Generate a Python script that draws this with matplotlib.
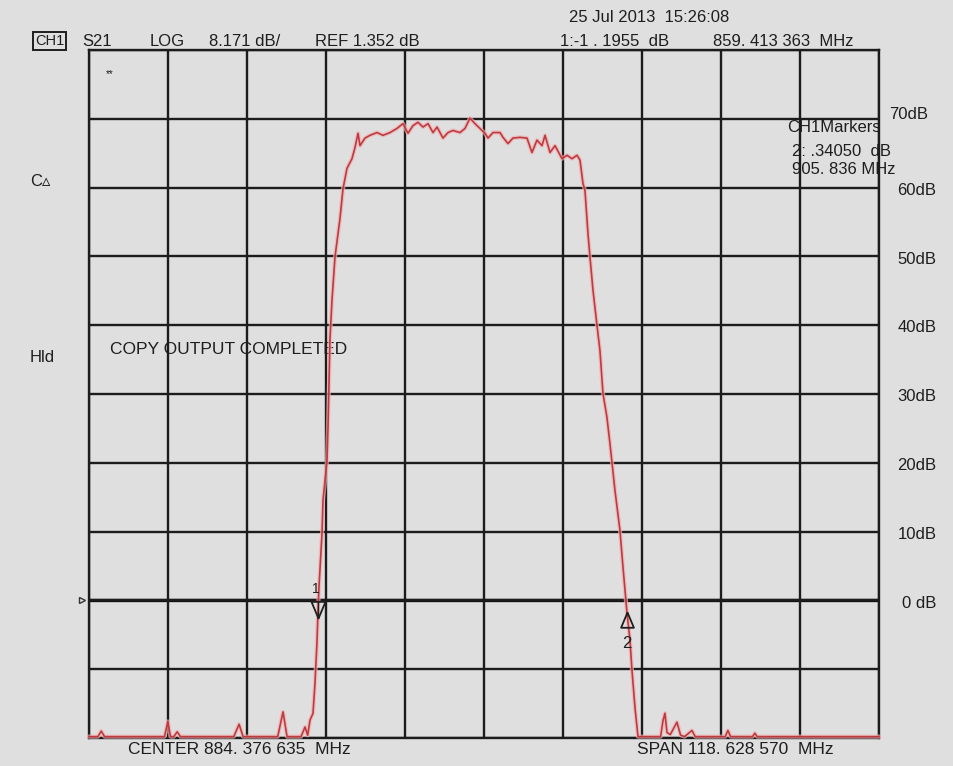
import numpy as np
import matplotlib.pyplot as plt

plt.rcParams['font.family'] = ['Liberation Sans', 'DejaVu Sans']

# sweep settings
center_mhz = 884.376635
span_mhz = 118.628570
start_mhz = center_mhz - span_mhz / 2
stop_mhz = center_mhz + span_mhz / 2

# S21 trace (MHz, dB on the display scale)
freq_mhz = [825.06, 826.40, 826.90, 827.40, 836.40, 836.90, 837.30, 837.80, 838.30, 838.80,
            846.80, 847.60, 848.20, 853.40, 854.20, 854.80, 856.90, 857.50, 857.90, 858.25,
            858.70, 859.00, 859.30, 859.45, 859.60, 860.05, 860.20, 860.80, 860.95, 861.10,
            861.25, 861.55, 862.00, 862.75, 863.20, 863.80, 864.55, 865.00, 865.46, 865.76,
            866.51, 867.26, 868.31, 869.21, 870.26, 871.31, 872.21, 872.96, 873.71, 874.46,
            875.22, 875.97, 876.72, 877.32, 878.22, 878.97, 879.72, 880.77, 881.52, 882.27,
            883.02, 884.08, 884.53, 884.98, 885.73, 886.78, 887.23, 887.98, 888.73, 889.78,
            890.83, 891.58, 892.33, 893.09, 893.54, 894.29, 895.04, 896.09, 896.84, 897.59,
            898.34, 898.79, 899.24, 899.54, 899.99, 900.29, 900.74, 901.34, 901.79, 902.24,
            902.84, 903.29, 903.59, 904.04, 904.79, 905.25, 905.85, 906.30, 906.60, 907.05,
            907.50, 910.90, 911.25, 911.55, 911.85, 912.35, 913.35, 913.90, 914.50, 915.60,
            916.10, 920.60, 921.00, 921.40, 924.70, 925.05, 925.40, 943.69]
s21_db = [-19.8, -19.8, -19.0, -19.8, -19.8, -17.6, -19.8, -19.8, -19.1, -19.8,
          -19.8, -18.0, -19.8, -19.8, -16.2, -19.8, -19.8, -18.4, -19.6, -17.4,
          -16.4, -12.0, -6.0, -1.5, 2.0, 9.7, 14.5, 20.3, 25.1, 31.5,
          38.0, 43.6, 49.9, 55.5, 59.8, 62.8, 64.2, 65.8, 67.9, 66.1,
          67.2, 67.6, 68.0, 67.6, 68.0, 68.6, 69.3, 67.9, 69.0, 69.5,
          68.8, 69.3, 68.0, 68.8, 67.2, 68.0, 68.3, 68.0, 68.6, 70.1,
          69.3, 68.3, 67.9, 67.2, 68.0, 68.0, 67.3, 66.4, 67.2, 67.3,
          67.2, 65.1, 66.9, 66.1, 67.6, 65.1, 66.1, 64.2, 64.7, 64.2,
          64.7, 64.0, 60.6, 59.6, 53.3, 49.9, 45.1, 40.0, 36.3, 30.1,
          26.6, 22.8, 20.1, 16.0, 10.2, 4.8, -1.8, -5.8, -10.2, -15.6,
          -19.8, -19.8, -17.5, -16.4, -19.2, -19.5, -17.7, -19.6, -19.8, -18.9,
          -19.8, -19.8, -18.9, -19.8, -19.8, -19.3, -19.8, -19.8]

marker_mhz = [859.413363, 905.836]
scale_db = [0, 10, 20, 30, 40, 50, 60, 70]
scale_labels = ['0 dB', '10dB', '20dB', '30dB', '40dB', '50dB', '60dB', '70dB']

bg = '#dfdfdf'
ink = '#1e1e1e'
W, H = 954, 766
fig = plt.figure(figsize=(W / 100, H / 100), dpi=100, facecolor=bg)
ax = fig.add_axes((89 / W, 1 - 738 / H, 790 / W, 688 / H))
ax.set_facecolor(bg)

ax.set_xlim(start_mhz, stop_mhz)
ax.set_ylim(-20, 80)
ax.set_xticks(np.linspace(start_mhz, stop_mhz, 11))
ax.set_yticks(np.arange(-20, 81, 10))
ax.tick_params(length=0, labelleft=False, labelbottom=False)
ax.grid(True, color='#1c1c1c', linewidth=1.7, zorder=2)
ax.set_axisbelow(False)
for s in ax.spines.values():
    s.set_color('#1c1c1c')
    s.set_linewidth(1.7)
ax.axhline(0, color='#111111', linewidth=2.4, zorder=2.5)

# trace with a soft pink halo
ax.plot(freq_mhz, s21_db, color='#f0b0b0', linewidth=3.0, alpha=0.7, zorder=3, clip_on=False)
ax.plot(freq_mhz, s21_db, color='#bf3a40', linewidth=1.2, zorder=3.2, clip_on=False)

# markers sit on the trace
mk_db = np.interp(marker_mhz, freq_mhz, s21_db)
down_tri = [(0, 0), (-0.42, 1), (0.42, 1), (0, 0)]
up_tri = [(0, 0), (-0.42, -1), (0.42, -1), (0, 0)]
ax.plot(marker_mhz[0], mk_db[0], marker=down_tri, ms=24, mfc='none', mec=ink,
        mew=1.3, zorder=4)
ax.plot([marker_mhz[0]] * 2, [mk_db[0], mk_db[0] + 2.4], color=ink, lw=1.0, zorder=4)
ax.text(marker_mhz[0] - 0.3, mk_db[0] + 4.3, '1', fontsize=10, ha='center', va='center',
        color=ink, zorder=4)
ax.plot(marker_mhz[1], mk_db[1], marker=up_tri, ms=22, mfc='none', mec=ink,
        mew=1.3, zorder=4)
ax.text(marker_mhz[1], mk_db[1] - 4.6, '2', fontsize=12, ha='center', va='center',
        color=ink, zorder=4)

# reference position arrow on the left edge
yt = ax.get_yaxis_transform()
ax.plot([-0.009], [0], marker='>', ms=5, mfc='none', mec='#333333', mew=1.0,
        transform=yt, clip_on=False)

# scale labels on the right
for v, lab in zip(scale_db, scale_labels):
    xoff = 1.0125 if v == 70 else (1.0285 if v == 0 else 1.0235)
    yoff = 0.6 if v == 70 else -0.4
    ax.text(xoff, v + yoff, lab, transform=yt, fontsize=12, va='center', ha='left',
            color=ink)


def ftext(x, y, s, **kw):
    kw.setdefault('fontsize', 12)
    kw.setdefault('color', ink)
    fig.text(x / W, 1 - y / H, s, va='center', ha='left', **kw)


ftext(35, 41, 'CH1', fontsize=10.5,
      bbox=dict(boxstyle='square,pad=0.12', fc='none', ec=ink, lw=1.4))
ftext(82, 41, 'S21')
ftext(150, 41, 'LOG')
ftext(209, 41, '8.171 dB/')
ftext(315, 41, 'REF 1.352 dB')
ftext(569, 17, '25 Jul 2013  15:26:08')
ftext(560, 41, '1:-1 . 1955  dB')
ftext(713, 41, '859. 413 363  MHz')
ftext(106, 74, '**', fontsize=7)
ftext(30, 182, 'C\u25b5', fontsize=12)
ftext(30, 358, 'Hld', fontsize=12)
ftext(128, 750, 'CENTER 884. 376 635  MHz', fontsize=12.5)
ftext(637, 750, 'SPAN 118. 628 570  MHz', fontsize=12.5)


# annotation text lives under the grid lines
def atext(x, y, s, **kw):
    kw.setdefault('fontsize', 12)
    ax.text(x / W, 1 - y / H, s, transform=fig.transFigure, va='center', ha='left',
            color=ink, zorder=1, **kw)


atext(110, 350, 'COPY OUTPUT COMPLETED', fontsize=12.5)
atext(787, 127, 'CH1Markers')
atext(792, 152, '2: .34050  dB')
atext(792, 170, '905. 836 MHz')

fig.savefig('out.png', dpi=100, facecolor=bg)
